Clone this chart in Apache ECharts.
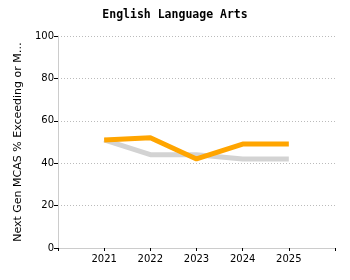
<!DOCTYPE html>
<html><head><meta charset="utf-8">
<script src="https://cdn.jsdelivr.net/npm/echarts@6/dist/echarts.min.js"></script>
<style>html,body{margin:0;padding:0;background:#fff}#c{width:350px;height:280px}</style>
</head><body><div id="c"></div>
<script>
const years = [2021, 2022, 2023, 2024, 2025];
const stateValues = [51, 44, 44, 42, 42];
const schoolValues = [51, 52, 42, 49, 49];
const yTicks = [0, 20, 40, 60, 80, 100];
const title = 'English Language Arts';
const yName = 'Next Gen MCAS % Exceeding or M…';

const chart = echarts.init(document.getElementById('c'), null, {renderer: 'canvas'});
chart.setOption({
  animation: false,
  title: {text: title, left: 'center', top: 4,
    textStyle: {fontFamily: 'DejaVu Sans Mono', fontWeight: 'bold', fontSize: 11.5, color: '#000'}},
  grid: {left: 58, right: 15, top: 36, bottom: 32},
  xAxis: {type: 'value', min: 2020, max: 2026, interval: 1,
    axisLine: {lineStyle: {color: '#ccc'}},
    axisTick: {length: 3, lineStyle: {color: '#000'}},
    splitLine: {show: false},
    axisLabel: {fontFamily: 'DejaVu Sans', fontSize: 10, color: '#000', margin: 6,
      formatter: v => years.includes(v) ? String(v) : ''}},
  yAxis: {type: 'value', min: yTicks[0], max: yTicks[yTicks.length-1], interval: 20,
    name: yName, nameLocation: 'middle', nameGap: 32,
    nameTextStyle: {fontFamily: 'DejaVu Sans', fontSize: 11, color: '#000'},
    axisLine: {show: true, lineStyle: {color: '#ccc'}},
    axisTick: {show: true, length: 4, lineStyle: {color: '#000'}},
    axisLabel: {fontFamily: 'DejaVu Sans', fontSize: 10, color: '#000', margin: 4},
    splitLine: {lineStyle: {color: '#bbb', type: [1, 2], width: 1}}},
  series: [
    {type: 'line', data: years.map((y, i) => [y, stateValues[i]]), symbol: 'none',
      lineStyle: {color: '#d3d3d3', width: 5}, z: 2},
    {type: 'line', data: years.map((y, i) => [y, schoolValues[i]]), symbol: 'none',
      lineStyle: {color: '#FFA500', width: 5}, z: 3}
  ]
});
</script></body></html>
